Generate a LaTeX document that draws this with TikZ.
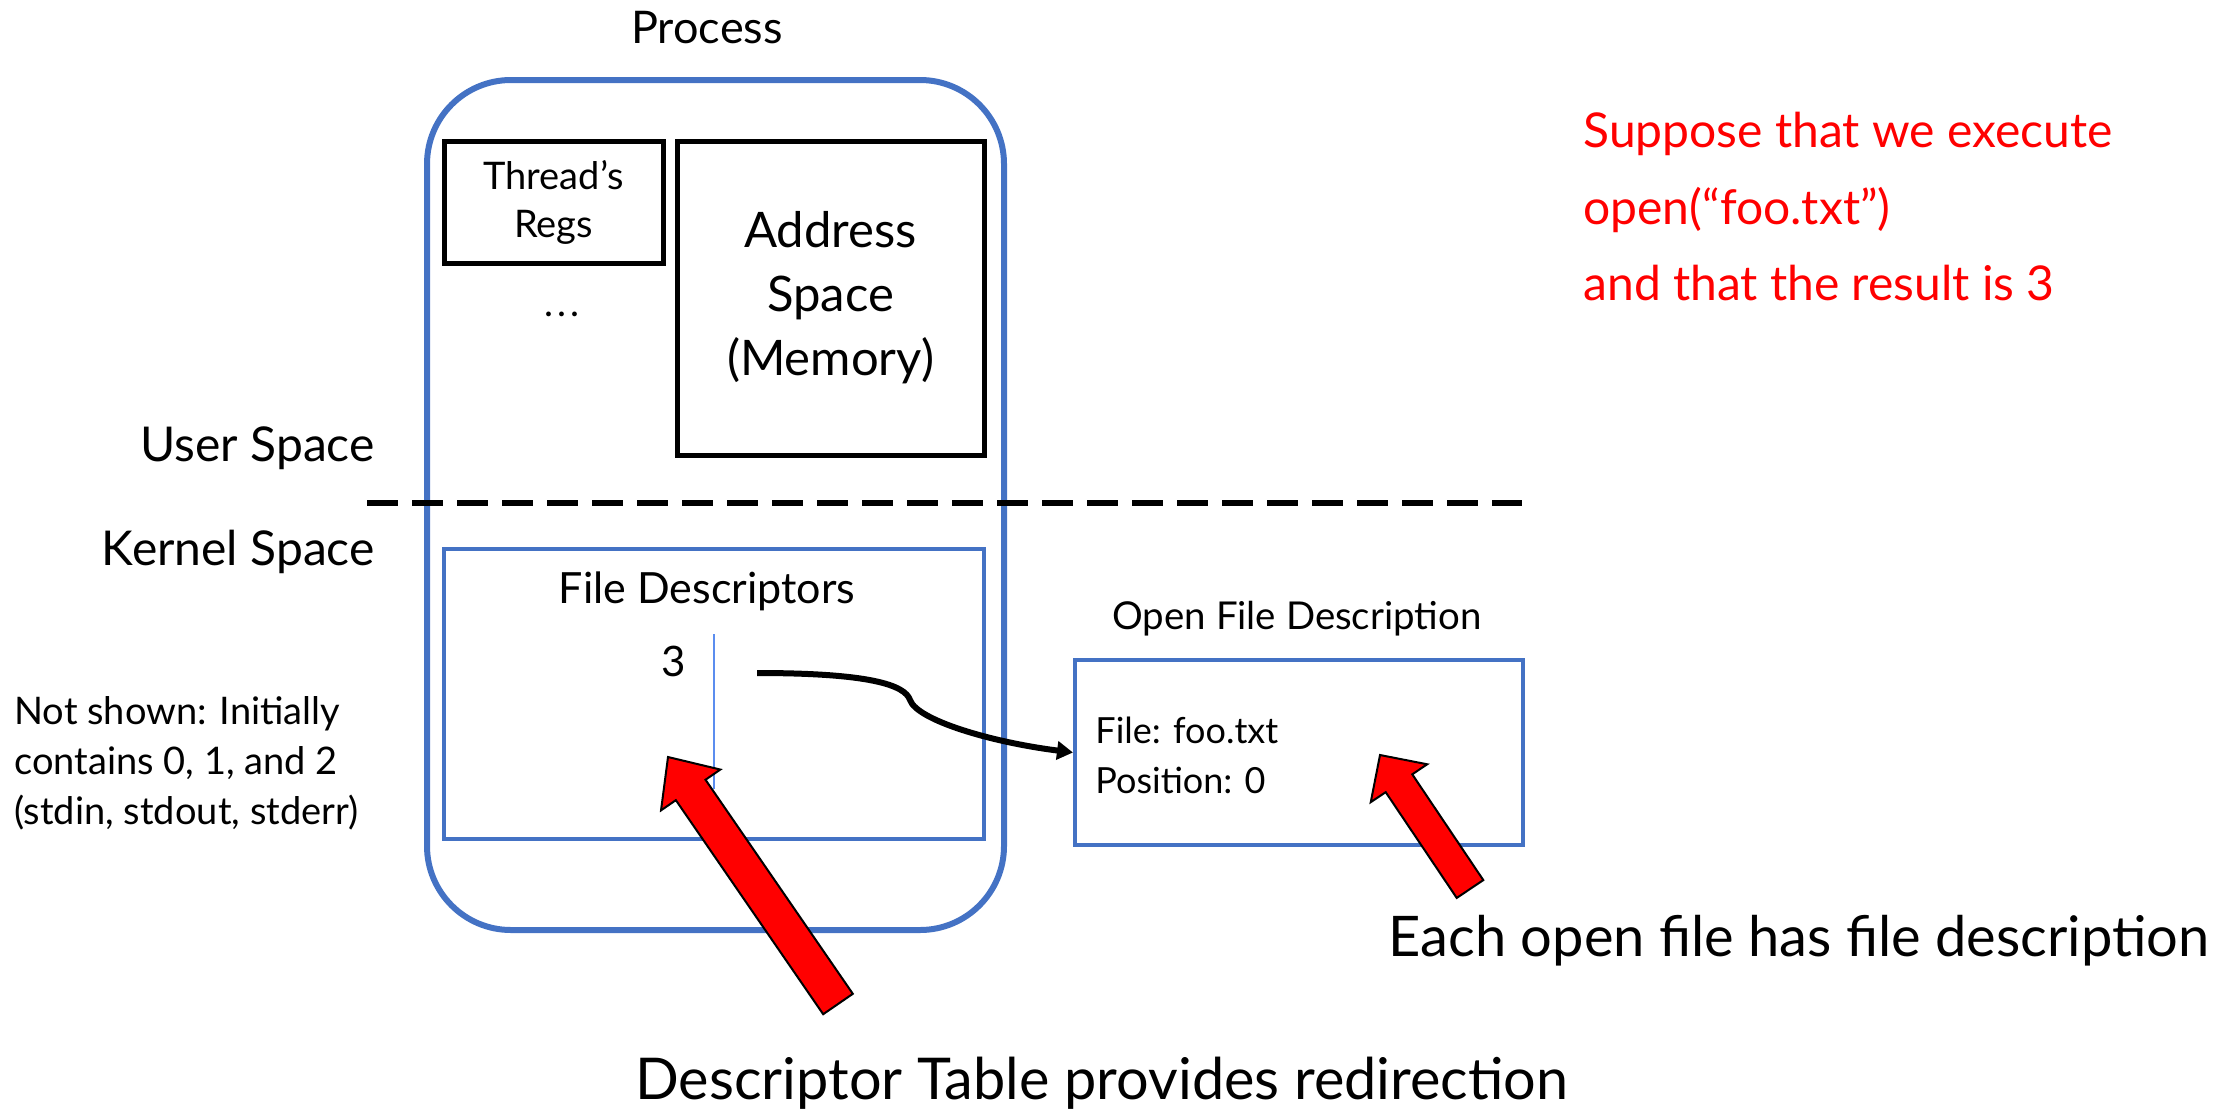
\documentclass[tikz,border=0pt]{standalone}
\usepackage{fontspec}
\setmainfont{Lato}
\usetikzlibrary{arrows.meta,calc}
\definecolor{boxblue}{HTML}{4472C4}
\definecolor{lineblue}{HTML}{5B8DEF}
\newcommand\fsz[2]{\fontsize{#1}{#2}\selectfont}
% block arrow: tail, tip, shaft half width, head half width, head length
\newcommand\blockarrow[5]{%
  \coordinate (ba-h) at ($(#2)!#5!(#1)$);
  \filldraw[fill=red,draw=black,line width=1pt,line join=miter]
    ($(#1)!#3!90:(#2)$) -- ($(ba-h)!#3!90:(#2)$) -- ($(ba-h)!#4!90:(#2)$)
    -- (#2) -- ($(ba-h)!#4!-90:(#2)$) -- ($(ba-h)!#3!-90:(#2)$)
    -- ($(#1)!#3!-90:(#2)$) -- cycle;}
\begin{document}
\begin{tikzpicture}[x=0.5pt,y=-0.5pt,
  blackbox/.style={draw=black,line width=2.5pt,inner sep=0pt},
  bluebox/.style={draw=boxblue,line width=2pt,inner sep=0pt},
  lbl/.style={inner sep=0pt,anchor=base}]
\useasboundingbox (0,0) rectangle (2230,1108);

% process outline
\node[draw=boxblue,line width=3pt,rounded corners=42pt,minimum width=288.5pt,
      minimum height=425pt,inner sep=0pt] (process) at (715.5,505) {};
\node[lbl,font=\fsz{22.5}{26}] (ptitle) at (707,43) {Process};

% user-space contents
\node[blackbox,minimum width=109.5pt,minimum height=61pt,align=center,
      font=\fsz{19}{24}] (regs) at (553.5,202) {Thread’s\\Regs};
\node[lbl,font=\fsz{19}{22}] (dots) at (562,316) {.\hspace{2pt}.\hspace{2pt}.};
\node[blackbox,minimum width=153.5pt,minimum height=157pt,align=center,
      font=\fsz{24.5}{32}] (addr) at (830.5,298) {Address\\Space\\(Memory)};

% user/kernel split
\node[lbl,anchor=base east,font=\fsz{24}{28}] (user) at (375,461) {User Space};
\node[lbl,anchor=base east,font=\fsz{24}{28}] (kernel) at (375,565) {Kernel Space};
\coordinate (splitL) at (367,503);
\coordinate (splitR) at (1522,503);
\draw[line width=3pt,dash pattern=on 15.5pt off 7pt] (splitL) -- (splitR);

% descriptor table
\node[bluebox,minimum width=270pt,minimum height=145pt] (fd) at (714,694) {};
\node[lbl,font=\fsz{21.5}{25}] (fdtitle) at (707,603) {File Descriptors};
\node[lbl,font=\fsz{21}{24}] (three) at (674,676) {3};
\coordinate (colT) at (714,634);
\coordinate (colB) at (714,789);
\draw[lineblue,line width=1.2pt] (colT) -- (colB);

% open file description
\node[lbl,font=\fsz{19.2}{23}] (ofdtitle) at (1297,629) {Open File Description};
\node[bluebox,minimum width=224pt,minimum height=92.5pt] (ofd) at (1299,752.5) {};
\node[inner sep=0pt,anchor=west,align=left,font=\fsz{18}{25}] (ofdtext) at (1095,755)
  {File: foo.txt\\Position: 0};

% pointer from descriptor 3 to its description
\coordinate (fd3) at (757,673);
\draw[line width=3pt,-{Triangle[length=8pt,width=9pt]}]
  (fd3) .. controls (870,673) and (905,685) .. (910,700)
        .. controls (917,720) and (990,742) .. (ofd.west);

% notes
\node[inner sep=0pt,anchor=north west,align=left,font=\fsz{19}{25}] (note) at (14,696)
  {Not shown: Initially\\contains 0, 1, and 2\\(stdin, stdout, stderr)};
\node[inner sep=0pt,anchor=north west,align=left,text=red,font=\fsz{24}{38.25}] (premise)
  at (1583,112) {Suppose that we execute\\open(“foo.txt”)\\and that the result is 3};

% callouts
\node[lbl,font=\fsz{28.8}{32}] (cap1) at (1102,1099) {Descriptor Table provides redirection};
\node[lbl,font=\fsz{28}{32}] (cap2) at (1799,956) {Each open file has file description};
\coordinate (a1tail) at (838,1004);
\coordinate (a1tip) at (668,757);
\coordinate (a2tail) at (1470,889);
\coordinate (a2tip) at (1380,755);
\blockarrow{a1tail}{a1tip}{9pt}{18pt}{20pt}
\blockarrow{a2tail}{a2tip}{8pt}{17pt}{17pt}
\end{tikzpicture}
\end{document}
